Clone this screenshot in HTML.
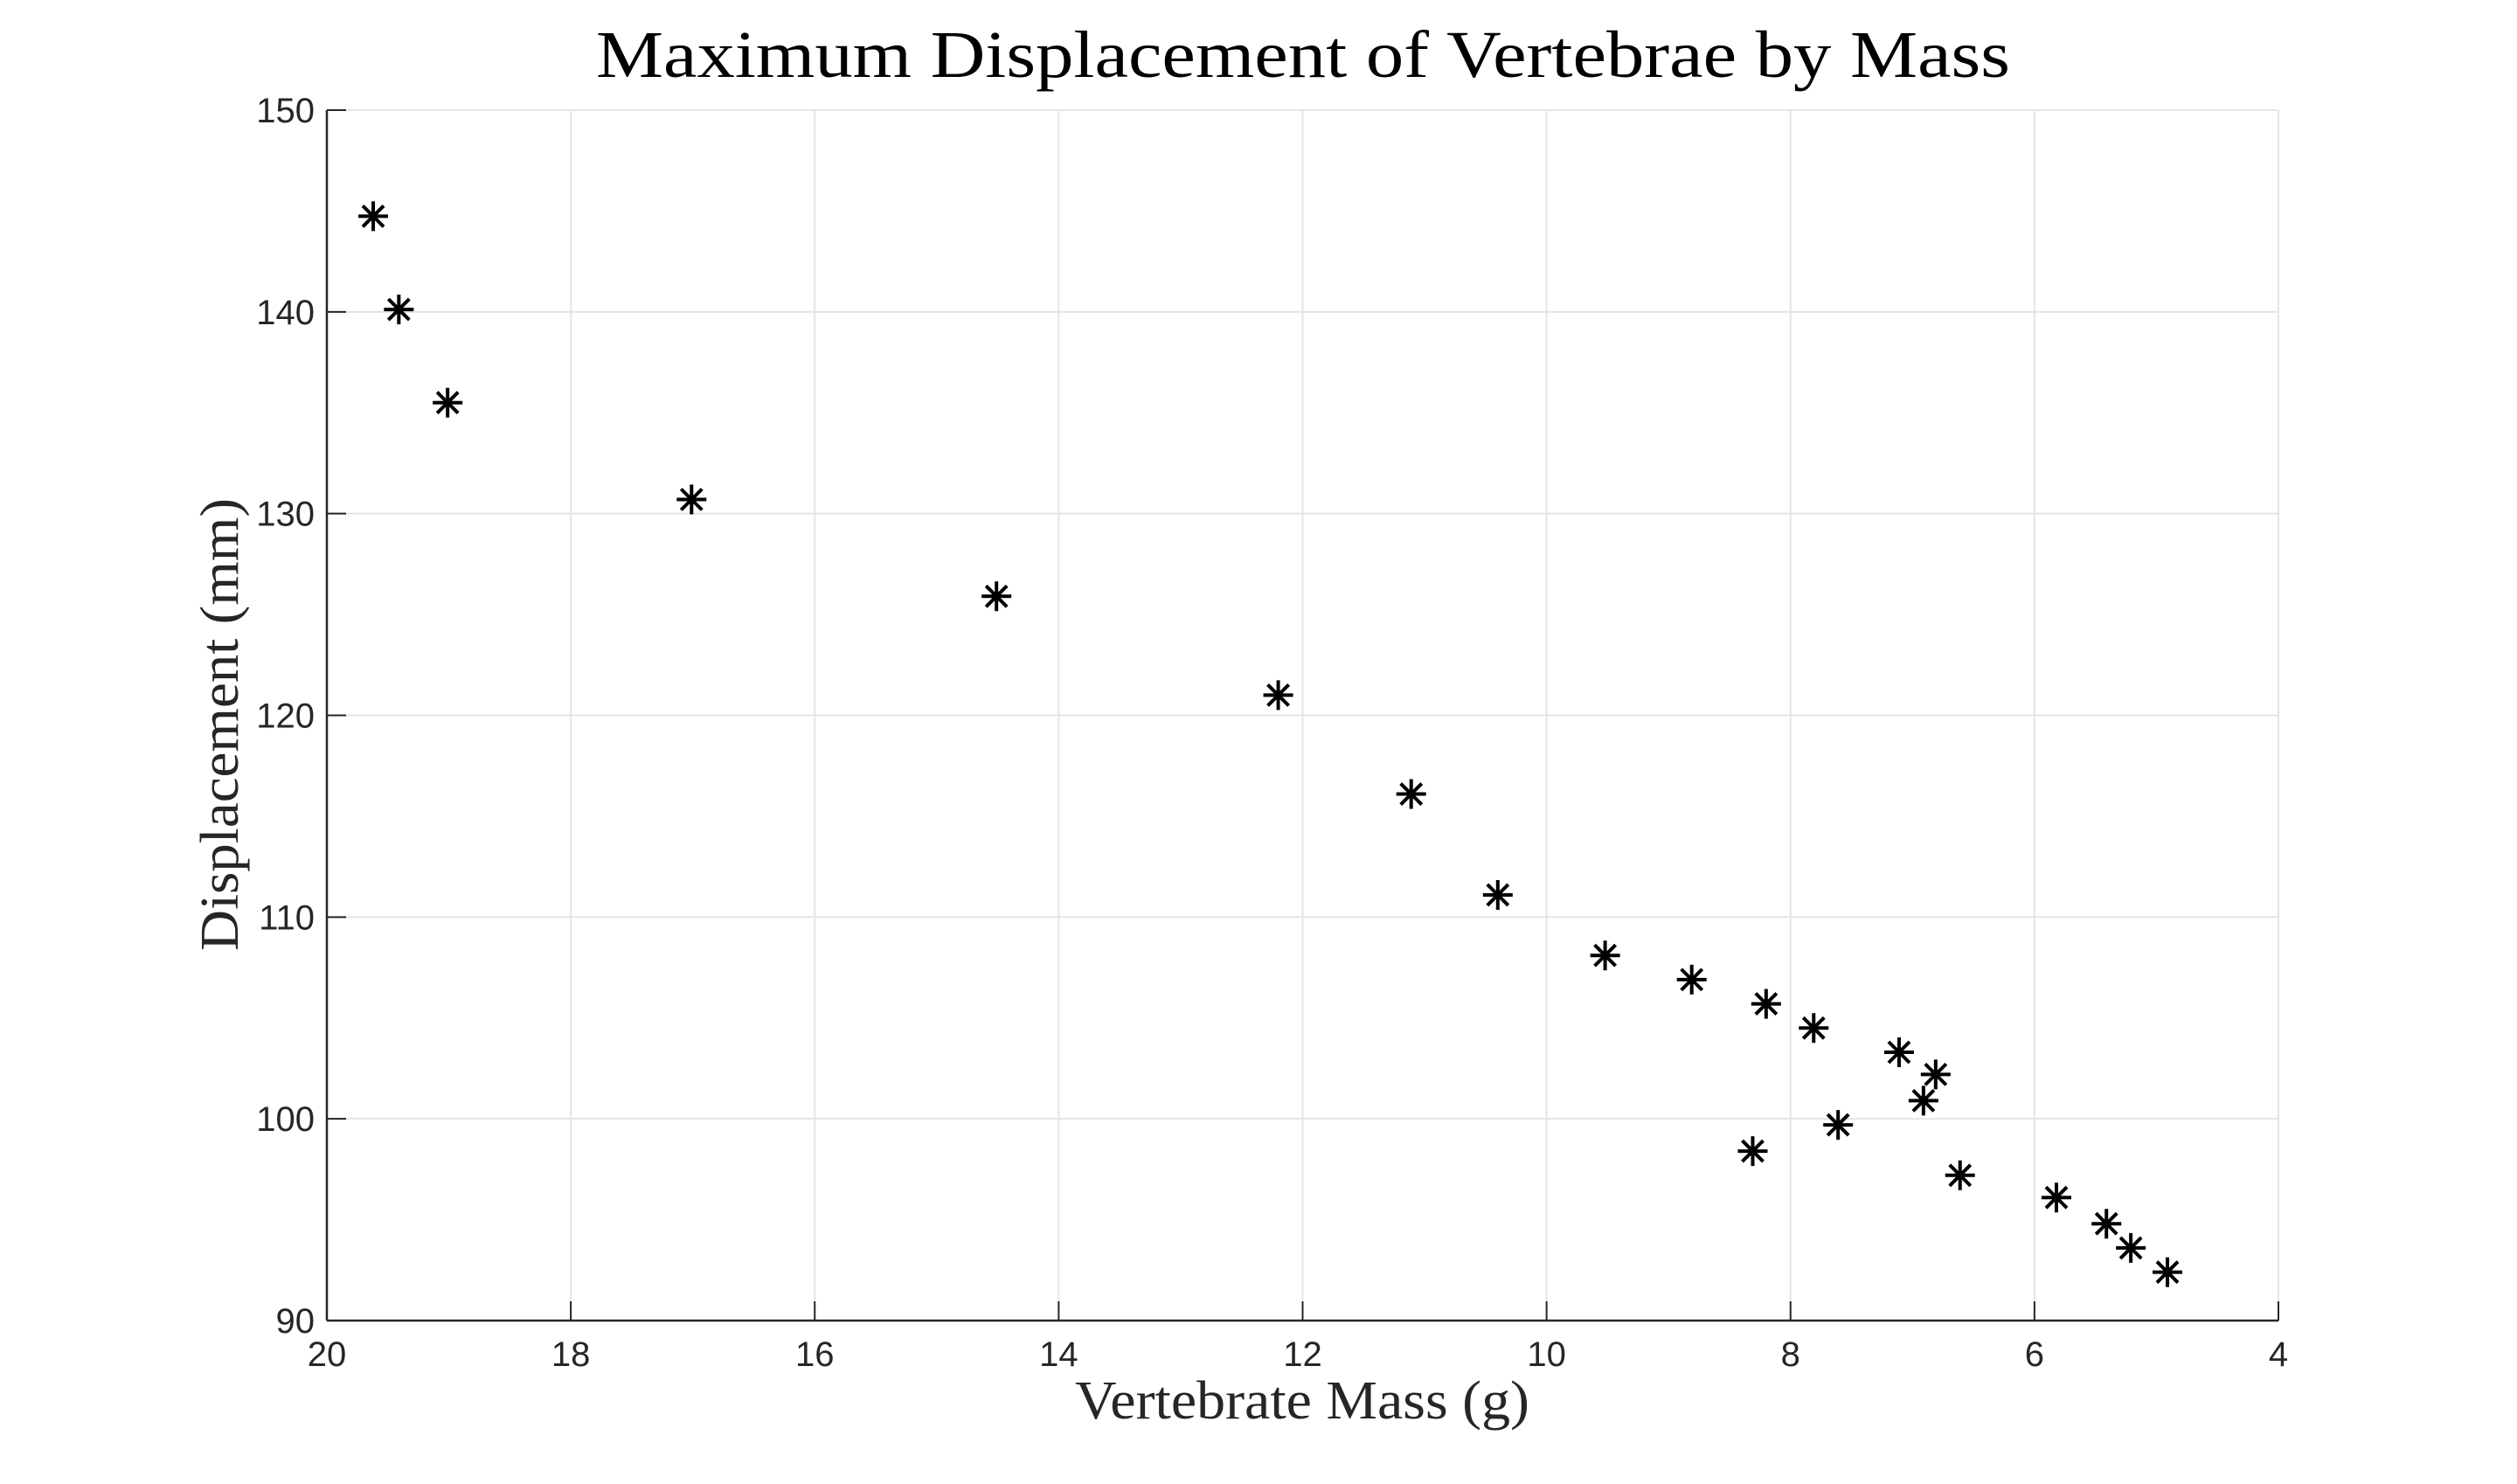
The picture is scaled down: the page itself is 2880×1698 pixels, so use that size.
<!DOCTYPE html>
<html><head><meta charset="utf-8"><style>
html,body{margin:0;padding:0;background:#fff;}
svg{display:block;}
</style></head><body>
<svg id="chart" width="2880" height="1698" viewBox="0 0 2880 1698" xmlns="http://www.w3.org/2000/svg">
<text x="1491" y="88" text-anchor="middle" font-family="Liberation Serif, serif" font-size="76" fill="#000" textLength="1618" lengthAdjust="spacingAndGlyphs">Maximum Displacement of Vertebrae by Mass</text>
<text x="1490" y="1623" text-anchor="middle" font-family="Liberation Serif, serif" font-size="62" fill="#262626" textLength="520" lengthAdjust="spacingAndGlyphs">Vertebrate Mass (g)</text>
<text x="0" y="0" transform="translate(272,829) rotate(-90)" text-anchor="middle" font-family="Liberation Serif, serif" font-size="62" fill="#262626" textLength="518" lengthAdjust="spacingAndGlyphs">Displacement (mm)</text>
<g id="grid"></g>
<g id="axes"></g>
<g id="marks"></g>
</svg>
<script>
const massValues = [19.62,19.41,19.01,17.01,14.51,12.2,11.11,10.40,9.52,8.81,8.20,7.81,7.11,6.81,6.91,7.61,8.31,6.61,5.82,5.41,5.21,4.91];
const displacementValues = [144.74,140.12,135.5,130.7,125.9,121.0,116.1,111.1,108.1,106.9,105.7,104.5,103.3,102.2,100.9,99.7,98.4,97.2,96.1,94.8,93.6,92.4];
const xTicks = [20,18,16,14,12,10,8,6,4];
const yTicks = [90,100,110,120,130,140,150];

const NS='http://www.w3.org/2000/svg';
const L=374,R=2607,T=126,B=1511;
const xMin=20,xMax=4,yMin=90,yMax=150;
function xs(v){return L+(v-xMin)/(xMax-xMin)*(R-L);}
function ys(v){return B-(v-yMin)/(yMax-yMin)*(B-T);}
function mk(tag,attrs,parent){const e=document.createElementNS(NS,tag);for(const k in attrs)e.setAttribute(k,attrs[k]);parent.appendChild(e);return e;}
const grid=document.getElementById('grid'),axes=document.getElementById('axes'),marks=document.getElementById('marks');

xTicks.forEach(t=>{
  const x=xs(t);
  if(t!==xMin){
    const g=mk('line',{x1:x,y1:T,x2:x,y2:B,stroke:'#e5e5e5','stroke-width':2},grid);
    
    
  }
  const tk=mk('line',{x1:x,y1:B,x2:x,y2:B-22,stroke:'#262626','stroke-width':2},axes);
  
  
  const lb=mk('text',{x:x,y:1563,'text-anchor':'middle','font-family':'Liberation Sans, sans-serif','font-size':40,fill:'#262626'},axes);
  lb.textContent=t;
  
  
});
yTicks.forEach(t=>{
  const y=ys(t);
  if(t!==yMin){
    const g=mk('line',{x1:L,y1:y,x2:R,y2:y,stroke:'#e5e5e5','stroke-width':2},grid);
    
    
  }
  const tk=mk('line',{x1:L,y1:y,x2:L+22,y2:y,stroke:'#262626','stroke-width':2},axes);
  
  
  const lb=mk('text',{x:360,y:y+14,'text-anchor':'end','font-family':'Liberation Sans, sans-serif','font-size':40,fill:'#262626'},axes);
  lb.textContent=t;
  
  
});
const xa=mk('line',{x1:L,y1:B,x2:R,y2:B,stroke:'#262626','stroke-width':2.5},axes);


const ya=mk('line',{x1:L,y1:T,x2:L,y2:B,stroke:'#262626','stroke-width':2.5},axes);



massValues.forEach((m,i)=>{
  const cx=xs(m),cy=ys(displacementValues[i]);
  const s=17,d=12;
  const p=mk('path',{d:`M${cx-s},${cy}H${cx+s}M${cx},${cy-s}V${cy+s}M${cx-d},${cy-d}L${cx+d},${cy+d}M${cx-d},${cy+d}L${cx+d},${cy-d}`,stroke:'#000','stroke-width':4,fill:'none'},marks);
  
  
});
</script>
</body></html>
